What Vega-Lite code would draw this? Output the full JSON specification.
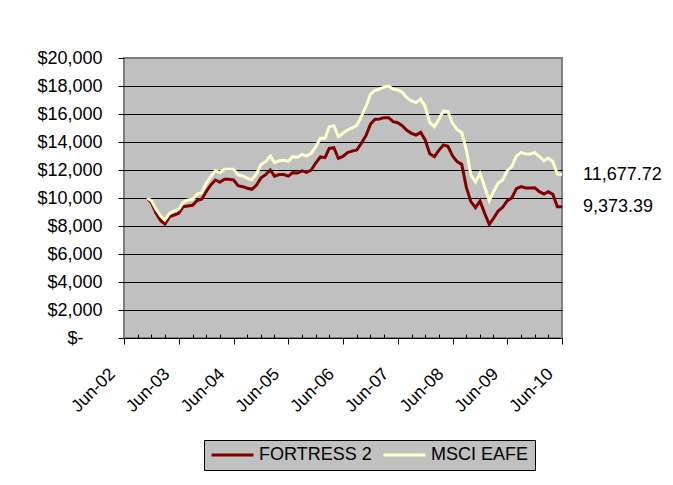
{
  "$schema": "https://vega.github.io/schema/vega-lite/v6.json",
  "width": 438,
  "height": 280,
  "autosize": {"type": "none"},
  "padding": {"left": 124, "top": 58, "right": 111, "bottom": 147},
  "background": "white",
  "config": {
    "font": "Liberation Sans",
    "view": {"fill": "#C0C0C0", "stroke": "#808080", "strokeWidth": 2}
  },
  "data": {
    "format": {"parse": {"date": "date:'%Y-%m-%d'"}},
    "values": [
      {"date": "2002-11-01", "FORTRESS 2": 10000, "MSCI EAFE": 10000},
      {"date": "2002-12-01", "FORTRESS 2": 9665, "MSCI EAFE": 9810},
      {"date": "2003-01-01", "FORTRESS 2": 8907, "MSCI EAFE": 9190},
      {"date": "2003-02-01", "FORTRESS 2": 8380, "MSCI EAFE": 8714},
      {"date": "2003-03-01", "FORTRESS 2": 8143, "MSCI EAFE": 8430},
      {"date": "2003-04-01", "FORTRESS 2": 8667, "MSCI EAFE": 8905},
      {"date": "2003-05-01", "FORTRESS 2": 8786, "MSCI EAFE": 9070},
      {"date": "2003-06-01", "FORTRESS 2": 8905, "MSCI EAFE": 9190},
      {"date": "2003-07-01", "FORTRESS 2": 9380, "MSCI EAFE": 9690},
      {"date": "2003-08-01", "FORTRESS 2": 9430, "MSCI EAFE": 9857},
      {"date": "2003-09-01", "FORTRESS 2": 9476, "MSCI EAFE": 9905},
      {"date": "2003-10-01", "FORTRESS 2": 9810, "MSCI EAFE": 10260},
      {"date": "2003-11-01", "FORTRESS 2": 9905, "MSCI EAFE": 10380},
      {"date": "2003-12-01", "FORTRESS 2": 10450, "MSCI EAFE": 11050},
      {"date": "2004-01-01", "FORTRESS 2": 10930, "MSCI EAFE": 11520},
      {"date": "2004-02-01", "FORTRESS 2": 11286, "MSCI EAFE": 11950},
      {"date": "2004-03-01", "FORTRESS 2": 11120, "MSCI EAFE": 11810},
      {"date": "2004-04-01", "FORTRESS 2": 11333, "MSCI EAFE": 12050},
      {"date": "2004-05-01", "FORTRESS 2": 11333, "MSCI EAFE": 12050},
      {"date": "2004-06-01", "FORTRESS 2": 11286, "MSCI EAFE": 12050},
      {"date": "2004-07-01", "FORTRESS 2": 10880, "MSCI EAFE": 11643},
      {"date": "2004-08-01", "FORTRESS 2": 10810, "MSCI EAFE": 11570},
      {"date": "2004-09-01", "FORTRESS 2": 10700, "MSCI EAFE": 11405},
      {"date": "2004-10-01", "FORTRESS 2": 10620, "MSCI EAFE": 11310},
      {"date": "2004-11-01", "FORTRESS 2": 10930, "MSCI EAFE": 11714},
      {"date": "2004-12-01", "FORTRESS 2": 11440, "MSCI EAFE": 12390},
      {"date": "2005-01-01", "FORTRESS 2": 11670, "MSCI EAFE": 12595},
      {"date": "2005-02-01", "FORTRESS 2": 12000, "MSCI EAFE": 13000},
      {"date": "2005-03-01", "FORTRESS 2": 11560, "MSCI EAFE": 12520},
      {"date": "2005-04-01", "FORTRESS 2": 11670, "MSCI EAFE": 12665},
      {"date": "2005-05-01", "FORTRESS 2": 11670, "MSCI EAFE": 12690},
      {"date": "2005-06-01", "FORTRESS 2": 11560, "MSCI EAFE": 12620},
      {"date": "2005-07-01", "FORTRESS 2": 11810, "MSCI EAFE": 12950},
      {"date": "2005-08-01", "FORTRESS 2": 11786, "MSCI EAFE": 12905},
      {"date": "2005-09-01", "FORTRESS 2": 11940, "MSCI EAFE": 13120},
      {"date": "2005-10-01", "FORTRESS 2": 11830, "MSCI EAFE": 13000},
      {"date": "2005-11-01", "FORTRESS 2": 12000, "MSCI EAFE": 13190},
      {"date": "2005-12-01", "FORTRESS 2": 12500, "MSCI EAFE": 13667},
      {"date": "2006-01-01", "FORTRESS 2": 12930, "MSCI EAFE": 14265},
      {"date": "2006-02-01", "FORTRESS 2": 12880, "MSCI EAFE": 14265},
      {"date": "2006-03-01", "FORTRESS 2": 13540, "MSCI EAFE": 15095},
      {"date": "2006-04-01", "FORTRESS 2": 13590, "MSCI EAFE": 15170},
      {"date": "2006-05-01", "FORTRESS 2": 12840, "MSCI EAFE": 14380},
      {"date": "2006-06-01", "FORTRESS 2": 12975, "MSCI EAFE": 14620},
      {"date": "2006-07-01", "FORTRESS 2": 13240, "MSCI EAFE": 14857},
      {"date": "2006-08-01", "FORTRESS 2": 13345, "MSCI EAFE": 15000},
      {"date": "2006-09-01", "FORTRESS 2": 13430, "MSCI EAFE": 15190},
      {"date": "2006-10-01", "FORTRESS 2": 13905, "MSCI EAFE": 15810},
      {"date": "2006-11-01", "FORTRESS 2": 14450, "MSCI EAFE": 16524},
      {"date": "2006-12-01", "FORTRESS 2": 15262, "MSCI EAFE": 17405},
      {"date": "2007-01-01", "FORTRESS 2": 15620, "MSCI EAFE": 17690},
      {"date": "2007-02-01", "FORTRESS 2": 15643, "MSCI EAFE": 17786},
      {"date": "2007-03-01", "FORTRESS 2": 15738, "MSCI EAFE": 17929},
      {"date": "2007-04-01", "FORTRESS 2": 15738, "MSCI EAFE": 18000},
      {"date": "2007-05-01", "FORTRESS 2": 15450, "MSCI EAFE": 17786},
      {"date": "2007-06-01", "FORTRESS 2": 15380, "MSCI EAFE": 17714},
      {"date": "2007-07-01", "FORTRESS 2": 15167, "MSCI EAFE": 17550},
      {"date": "2007-08-01", "FORTRESS 2": 14833, "MSCI EAFE": 17167},
      {"date": "2007-09-01", "FORTRESS 2": 14620, "MSCI EAFE": 16930},
      {"date": "2007-10-01", "FORTRESS 2": 14500, "MSCI EAFE": 16810},
      {"date": "2007-11-01", "FORTRESS 2": 14690, "MSCI EAFE": 17070},
      {"date": "2007-12-01", "FORTRESS 2": 14143, "MSCI EAFE": 16524},
      {"date": "2008-01-01", "FORTRESS 2": 13167, "MSCI EAFE": 15380},
      {"date": "2008-02-01", "FORTRESS 2": 12950, "MSCI EAFE": 15095},
      {"date": "2008-03-01", "FORTRESS 2": 13405, "MSCI EAFE": 15620},
      {"date": "2008-04-01", "FORTRESS 2": 13786, "MSCI EAFE": 16214},
      {"date": "2008-05-01", "FORTRESS 2": 13690, "MSCI EAFE": 16167},
      {"date": "2008-06-01", "FORTRESS 2": 13000, "MSCI EAFE": 15333},
      {"date": "2008-07-01", "FORTRESS 2": 12595, "MSCI EAFE": 14900},
      {"date": "2008-08-01", "FORTRESS 2": 12405, "MSCI EAFE": 14665},
      {"date": "2008-09-01", "FORTRESS 2": 10762, "MSCI EAFE": 13430},
      {"date": "2008-10-01", "FORTRESS 2": 9738, "MSCI EAFE": 11643},
      {"date": "2008-11-01", "FORTRESS 2": 9310, "MSCI EAFE": 11143},
      {"date": "2008-12-01", "FORTRESS 2": 9786, "MSCI EAFE": 11760},
      {"date": "2009-01-01", "FORTRESS 2": 8905, "MSCI EAFE": 10810},
      {"date": "2009-02-01", "FORTRESS 2": 8120, "MSCI EAFE": 9810},
      {"date": "2009-03-01", "FORTRESS 2": 8550, "MSCI EAFE": 10450},
      {"date": "2009-04-01", "FORTRESS 2": 9070, "MSCI EAFE": 11050},
      {"date": "2009-05-01", "FORTRESS 2": 9333, "MSCI EAFE": 11286},
      {"date": "2009-06-01", "FORTRESS 2": 9810, "MSCI EAFE": 11950},
      {"date": "2009-07-01", "FORTRESS 2": 10000, "MSCI EAFE": 12238},
      {"date": "2009-08-01", "FORTRESS 2": 10667, "MSCI EAFE": 13000},
      {"date": "2009-09-01", "FORTRESS 2": 10810, "MSCI EAFE": 13240},
      {"date": "2009-10-01", "FORTRESS 2": 10714, "MSCI EAFE": 13143},
      {"date": "2009-11-01", "FORTRESS 2": 10714, "MSCI EAFE": 13143},
      {"date": "2009-12-01", "FORTRESS 2": 10738, "MSCI EAFE": 13240},
      {"date": "2010-01-01", "FORTRESS 2": 10450, "MSCI EAFE": 12950},
      {"date": "2010-02-01", "FORTRESS 2": 10286, "MSCI EAFE": 12665},
      {"date": "2010-03-01", "FORTRESS 2": 10450, "MSCI EAFE": 12857},
      {"date": "2010-04-01", "FORTRESS 2": 10262, "MSCI EAFE": 12595},
      {"date": "2010-05-01", "FORTRESS 2": 9380, "MSCI EAFE": 11714},
      {"date": "2010-06-01", "FORTRESS 2": 9373.39, "MSCI EAFE": 11677.72}
    ]
  },
  "transform": [{"fold": ["FORTRESS 2", "MSCI EAFE"], "as": ["series", "value"]}],
  "encoding": {
    "x": {
      "field": "date",
      "type": "temporal",
      "scale": {"domain": [{"year": 2002, "month": 6, "date": 1}, {"year": 2010, "month": 6, "date": 1}]},
      "axis": {
        "title": null,
        "grid": false,
        "values": [
          {"year": 2002, "month": 6, "date": 1}, {"year": 2002, "month": 9, "date": 1}, {"year": 2002, "month": 12, "date": 1},
          {"year": 2003, "month": 3, "date": 1}, {"year": 2003, "month": 6, "date": 1}, {"year": 2003, "month": 9, "date": 1}, {"year": 2003, "month": 12, "date": 1},
          {"year": 2004, "month": 3, "date": 1}, {"year": 2004, "month": 6, "date": 1}, {"year": 2004, "month": 9, "date": 1}, {"year": 2004, "month": 12, "date": 1},
          {"year": 2005, "month": 3, "date": 1}, {"year": 2005, "month": 6, "date": 1}, {"year": 2005, "month": 9, "date": 1}, {"year": 2005, "month": 12, "date": 1},
          {"year": 2006, "month": 3, "date": 1}, {"year": 2006, "month": 6, "date": 1}, {"year": 2006, "month": 9, "date": 1}, {"year": 2006, "month": 12, "date": 1},
          {"year": 2007, "month": 3, "date": 1}, {"year": 2007, "month": 6, "date": 1}, {"year": 2007, "month": 9, "date": 1}, {"year": 2007, "month": 12, "date": 1},
          {"year": 2008, "month": 3, "date": 1}, {"year": 2008, "month": 6, "date": 1}, {"year": 2008, "month": 9, "date": 1}, {"year": 2008, "month": 12, "date": 1},
          {"year": 2009, "month": 3, "date": 1}, {"year": 2009, "month": 6, "date": 1}, {"year": 2009, "month": 9, "date": 1}, {"year": 2009, "month": 12, "date": 1},
          {"year": 2010, "month": 3, "date": 1}, {"year": 2010, "month": 6, "date": 1}
        ],
        "domainColor": "black",
        "domainWidth": 1,
        "tickColor": "black",
        "tickSize": {"condition": {"test": "month(datum.value) == 5", "value": 6}, "value": -4},
        "labelAngle": -45,
        "labelAlign": "right",
        "labelBaseline": "middle",
        "labelFontSize": 17.5,
        "labelColor": "black",
        "labelPadding": 27,
        "labelOffset": -12,
        "labelOverlap": false,
        "labelFlush": false,
        "labelBound": false,
        "labelExpr": "month(datum.value) == 5 ? timeFormat(datum.value, '%b-%y') : ''"
      }
    },
    "y": {
      "field": "value",
      "type": "quantitative",
      "scale": {"domain": [0, 20000], "nice": false},
      "axis": {
        "title": null,
        "values": [0, 2000, 4000, 6000, 8000, 10000, 12000, 14000, 16000, 18000, 20000],
        "domain": false,
        "grid": true,
        "gridColor": "black",
        "gridWidth": 1,
        "gridOpacity": {"condition": {"test": "datum.value == 20000 || datum.value == 0", "value": 0}, "value": 1},
        "tickColor": "black",
        "tickSize": 6,
        "labelPadding": {"condition": {"test": "datum.value == 0", "value": 35}, "value": 16},
        "labelFontSize": 18,
        "labelColor": "black",
        "labelExpr": "datum.value == 0 ? '$-' : '$' + format(datum.value, ',')"
      }
    }
  },
  "layer": [
    {
      "mark": {"type": "line", "strokeWidth": 3},
      "encoding": {
        "color": {
          "field": "series",
          "type": "nominal",
          "scale": {"domain": ["FORTRESS 2", "MSCI EAFE"], "range": ["#800000", "#FFFFCC"]},
          "legend": {
            "title": null,
            "orient": "none",
            "legendX": 80,
            "legendY": 382,
            "direction": "horizontal",
            "fillColor": "#C0C0C0",
            "strokeColor": "black",
            "padding": 6,
            "clipHeight": 18,
            "symbolType": "stroke",
            "symbolSize": 1764,
            "symbolStrokeWidth": 3,
            "labelFontSize": 18,
            "labelColor": "black",
            "labelOffset": 4,
            "columnPadding": 10
          }
        }
      }
    },
    {
      "transform": [{"filter": "year(datum.date) == 2010 && month(datum.date) == 5"}],
      "mark": {"type": "text", "align": "left", "baseline": "middle", "dx": 21, "fontSize": 18, "color": "black"},
      "encoding": {
        "text": {"field": "value", "type": "quantitative", "format": ",.2f"}
      }
    }
  ]
}
